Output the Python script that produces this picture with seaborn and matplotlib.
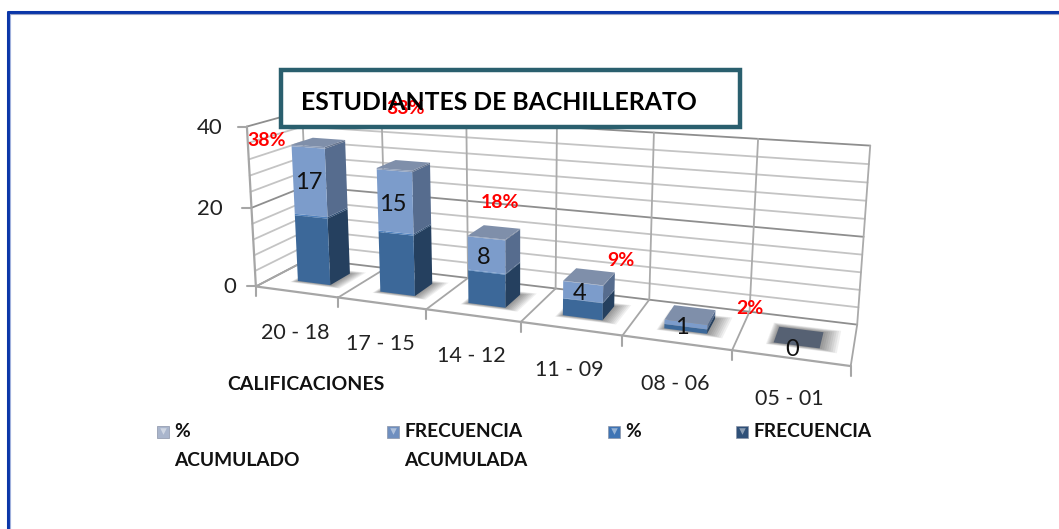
import numpy as np
import seaborn as sns
import matplotlib
matplotlib.use('Agg')
import matplotlib.pyplot as plt
from matplotlib.patches import Polygon, Rectangle
from matplotlib.transforms import Transform

# datos
rangos = ['20 - 18', '17 - 15', '14 - 12', '11 - 09', '08 - 06', '05 - 01']
frecuencia = [17, 15, 8, 4, 1, 0]
porcentaje = [0.38, 0.33, 0.18, 0.09, 0.02, 0.0]
frec_acumulada = [17, 15, 8, 4, 1, 0]
pct_acumulado = [0.38, 0.33, 0.18, 0.09, 0.02, 0.0]
etiquetas_pct = ['38%', '33%', '18%', '9%', '2%', '']
ticks_y = [0, 20, 40]

# colores frente, lado
colores = [('#3C6899', '#25405F'), ('#4F81BD', '#2F4F75'),
           ('#7C9CCB', '#566C8E'), ('#8D9DB8', '#66758F')]
color_techo = '#7F8FAA'

# calibracion de la caja 3D: (x, prof, z) -> pixel de la imagen
esquinas = [(0, 0, 0, 257, 285), (1, 0, 0, 340, 296), (2, 0, 0, 427, 309),
            (3, 0, 0, 520, 323), (4, 0, 0, 622, 337), (5, 0, 0, 732, 352),
            (6, 0, 0, 850, 367), (0, 1, 0, 306, 262), (3, 1, 0, 556, 285),
            (6, 1, 0, 858, 323), (0, 0, 40, 245, 125), (0, 1, 40, 304, 112),
            (3, 1, 40, 557, 128), (6, 1, 40, 870, 145)]


def ajustar_camara(puntos):
    filas = []
    for x, d, z, u, v in puntos:
        filas.append([x, d, z, 1, 0, 0, 0, 0, -u * x, -u * d, -u * z, -u])
        filas.append([0, 0, 0, 0, x, d, z, 1, -v * x, -v * d, -v * z, -v])
    return np.linalg.svd(np.array(filas, dtype=float))[2][-1].reshape(3, 4)


P = ajustar_camara(esquinas)


def proy(x, d, z):
    q = P @ np.array([x, d, z, 1.0])
    return q[0] / q[2], q[1] / q[2]


class Plano(Transform):
    # pasa (categoria, valor) a pixeles sobre un plano de profundidad fija
    input_dims = 2
    output_dims = 2

    def __init__(self, d, corr):
        super().__init__()
        self.d = d
        self.corr = corr

    def transform_non_affine(self, values):
        values = np.asarray(values, dtype=float)
        return np.array([proy(x + self.corr, self.d, z) for x, z in values])


sns.set_theme(style='white')
plt.rcParams['font.family'] = ['Lato', 'DejaVu Sans']

fig, ax = plt.subplots(figsize=(10.59, 5.29), dpi=100)
fig.subplots_adjust(0, 0, 1, 1)

# barras apiladas con seaborn
series = [frecuencia, porcentaje, frec_acumulada, pct_acumulado]
base = np.zeros(len(rangos))
for vals, (c_frente, c_lado) in zip(series, colores):
    sns.barplot(x=rangos, y=vals, bottom=base, color=c_frente, saturation=1,
                width=0.4, errorbar=None, ax=ax, linewidth=0)
    base = base + np.array(vals)

ax.set_xlim(0, 1059)
ax.set_ylim(529, 0)
ax.set_axis_off()

D0, D1 = 0.3, 0.7
CORR = 0.52


def linea(a, b, color='#BDBDBD', lw=1.3, z=1):
    ax.plot(*zip(proy(*a), proy(*b)), color=color, lw=lw, zorder=z,
            solid_capstyle='round')


# paredes y piso
for zv in np.arange(0, 41, 4):
    mayor = zv % 20 == 0
    c = '#8E8E8E' if mayor else '#C4C4C4'
    linea((0, 1, zv), (6, 1, zv), c)
    linea((0, 0, zv), (0, 1, zv), c)
for i in range(7):
    linea((i, 1, 0), (i, 1, 40), '#ABABAB')
    linea((i, 0, 0), (i, 1, 0), '#A6A6A6')
    x0, y0 = proy(i, 0, 0)
    ax.plot([x0, x0], [y0, y0 + 10], color='#A6A6A6', lw=1.5, zorder=1)
linea((0, 0, 0), (6, 0, 0), '#A6A6A6', 1.6)
linea((0, 0, 0), (0, 0, 40), '#A6A6A6', 1.6)
sep_tick = {0: 20, 20: 29, 40: 24}
for zv in ticks_y:
    x0, y0 = proy(0, 0, zv)
    ax.plot([x0 - 9, x0], [y0, y0], color='#A6A6A6', lw=1.5, zorder=1)
    ax.text(x0 - sep_tick[zv], y0 + 1, str(zv), ha='right', va='center',
            fontsize=16, color='#222222')

# sombras, caras laterales y techos a partir de los rectangulos de seaborn
for n, cont in enumerate(ax.containers):
    for rect in cont:
        x = rect.get_x()
        w = rect.get_width()
        y = rect.get_y()
        h = rect.get_height()
        x1 = x + w + CORR
        x00 = x + CORR
        if n == 0:
            for e in np.linspace(0.02, 0.15, 8):
                pts = [proy(x00 - e * 0.4, D0 - e * 0.4, 0),
                       proy(x1 + e, D0 - e * 0.4, 0),
                       proy(x1 + e, D1 + e * 0.6, 0),
                       proy(x00 - e * 0.4, D1 + e * 0.6, 0)]
                ax.add_patch(Polygon(pts, closed=True, color='black', alpha=0.06,
                                     lw=0, zorder=2))
        rect.set_transform(Plano(D0, CORR) + ax.transData)
        rect.set_zorder(5)
        if h > 0:
            lado = [proy(x1, D0, y), proy(x1, D1, y),
                    proy(x1, D1, y + h), proy(x1, D0, y + h)]
            ax.add_patch(Polygon(lado, closed=True, color=colores[n][1], lw=0, zorder=4))

# techo de cada pila
for i in range(len(rangos)):
    rect = ax.containers[-1][i]
    x00 = rect.get_x() + CORR
    x1 = x00 + rect.get_width()
    tope = base[i]
    techo = [proy(x00, D0, tope), proy(x1, D0, tope),
             proy(x1, D1, tope), proy(x00, D1, tope)]
    c = color_techo if tope > 0 else '#566173'
    ax.add_patch(Polygon(techo, closed=True, color=c, lw=0, zorder=6))

# etiquetas de datos
ajuste = [(-1, 1), (-2, 3), (-3, 2), (-3, 2), (-4, 3), (-4, 4)]
for i, lab in enumerate(rangos):
    cx, cy = proy(i + 0.5, 0, 0)
    ax.text(cx - 1, cy + 41, lab, ha='center', va='center', fontsize=15.5,
            color='#222222')
    tx, ty = proy(i + CORR, D0, frecuencia[i] + porcentaje[i] + frec_acumulada[i] * 0.5)
    ax.text(tx + ajuste[i][0], ty + ajuste[i][1], str(frec_acumulada[i]), ha='center',
            va='center', fontsize=17, color='#111111', zorder=9)

# caja del titulo, los porcentajes quedan entre la caja y el texto
ax.add_patch(Rectangle((281, 70), 459, 57, facecolor='white', edgecolor='#2A5F6E',
                       lw=3.2, zorder=7))
pos_pct = [(267, 141), (406, 108), (500, 203), (621, 260), (750, 308)]
for lab, (px, py) in zip(etiquetas_pct[:5], pos_pct):
    ax.text(px, py, lab, ha='center', va='center', fontsize=14,
            fontweight='bold', color='#FF0000', zorder=8)
ax.text(499, 102, 'ESTUDIANTES DE BACHILLERATO', ha='center', va='center',
        fontsize=17.8, fontweight='bold', color='black', zorder=10)

ax.text(306, 385, 'CALIFICACIONES', ha='center', va='center', fontsize=14,
        fontweight='bold', color='#111111')

# leyenda
ley_x = [163, 393, 614, 742]
ley_txt = ['%\nACUMULADO', 'FRECUENCIA\nACUMULADA', '%', 'FRECUENCIA']
ley_col = ['#A9B5CC', '#6F8FBF', '#3F74B4', '#2F5078']
for lx, txt, col in zip(ley_x, ley_txt, ley_col):
    ax.scatter([lx], [432], marker='s', s=75, color=col, edgecolor='#8A94A8', lw=0.5, zorder=3)
    ax.scatter([lx], [431], marker='v', s=22, color='white', alpha=0.45, lw=0, zorder=4)
    ax.text(lx + 11.5, 423, txt, ha='left', va='top', fontsize=13.8, fontweight='bold',
            color='#111111', linespacing=1.85)

# marco (sin lado derecho ni inferior)
ax.plot([8.2, 8.2], [529, 12], color='#0A36A8', lw=2.2, zorder=3)
ax.plot([8.2, 1059], [12, 12], color='#0A36A8', lw=2.2, zorder=3)
ax.plot([10.2, 10.2], [529, 14], color='#9FB0DC', lw=0.8, zorder=3)
ax.plot([10.2, 1059], [14, 14], color='#9AA3C4', lw=0.8, zorder=3)

fig.savefig('out.png', dpi=100)
